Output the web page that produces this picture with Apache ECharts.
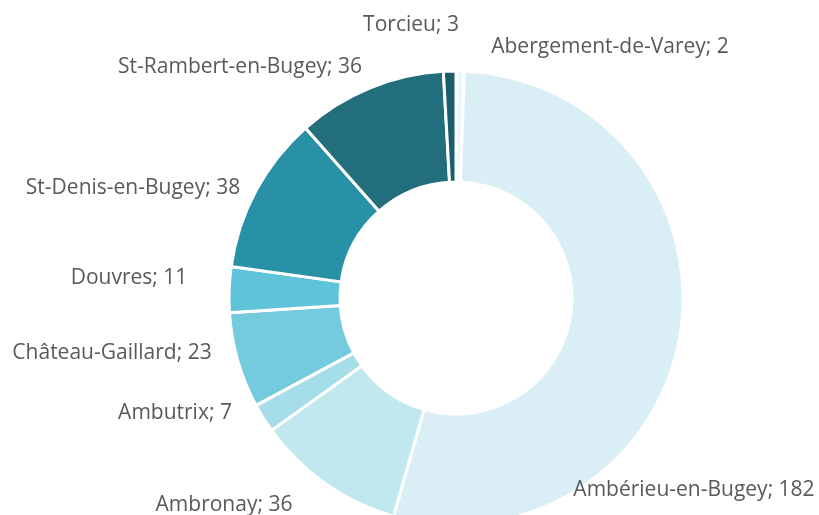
<!DOCTYPE html>
<html>
<head>
<meta charset="utf-8">
<script src="https://cdn.jsdelivr.net/npm/echarts@6/dist/echarts.min.js"></script>
<style>
  html, body { margin: 0; padding: 0; background: #fff; }
  #chart { width: 819px; height: 515px; }
</style>
</head>
<body>
<div id="chart"></div>
<script>
const names = [
  "Abergement-de-Varey",
  "Ambérieu-en-Bugey",
  "Ambronay",
  "Ambutrix",
  "Château-Gaillard",
  "Douvres",
  "St-Denis-en-Bugey",
  "St-Rambert-en-Bugey",
  "Torcieu",
];
const values = [2, 182, 36, 7, 23, 11, 38, 36, 3];
const colors = [
  "#e9f6fa", "#d9eff5", "#c2e8ef", "#a5dde8", "#74cbdd",
  "#5fc4d9", "#2891a6", "#236e7c", "#1c5d6b",
];
// label centres, like the Excel original places them
const labelPos = [
  [610, 47], [694, 490], [224, 505], [175, 413], [112, 353],
  [129, 278], [133, 188], [240, 67], [411, 25],
];

const chart = echarts.init(document.getElementById("chart"));
chart.setOption({
  animation: false,
  series: [
    {
      type: "pie",
      center: [456, 298],
      radius: [116, 227],
      startAngle: 90,
      clockwise: true,
      data: names.map((n, i) => ({
        name: n,
        value: values[i],
        itemStyle: { color: colors[i] },
      })),
      itemStyle: { borderColor: "#fff", borderWidth: 3 },
      label: {
        show: true,
        position: "outside",
        formatter: "{b}; {c}",
        color: "#595959",
        fontFamily: "Open Sans",
        fontSize: 21,
        overflow: "none",
      },
      labelLine: { show: false },
      labelLayout: (p) => ({
        x: labelPos[p.dataIndex][0],
        y: labelPos[p.dataIndex][1],
        align: "center",
        verticalAlign: "middle",
        hideOverlap: false,
        width: 400,
      }),
    },
  ],
});
</script>
</body>
</html>
